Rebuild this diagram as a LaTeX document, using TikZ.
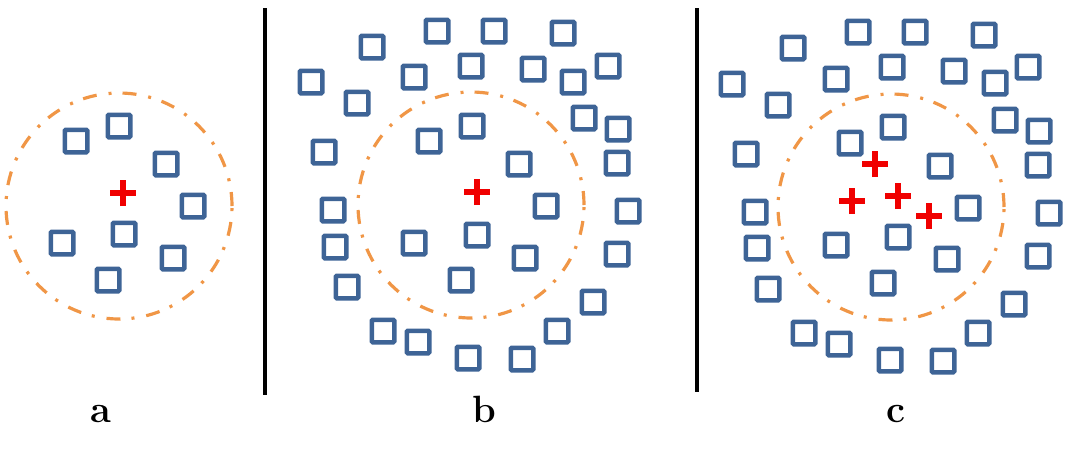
\documentclass[tikz,border=0pt]{standalone}
\definecolor{sqblue}{RGB}{62,100,150}
\definecolor{ringorange}{RGB}{240,150,70}
\definecolor{plusred}{RGB}{240,0,0}
\newcommand{\plusmark}[2]{%
  \node[inner sep=0pt, minimum size=0pt] (#1) at (#2) {};
  \draw[plusline] ([xshift=-13pt]#1.center) -- ([xshift=13pt]#1.center);
  \draw[plusline] ([yshift=-13pt]#1.center) -- ([yshift=13pt]#1.center);}
\begin{document}
\begin{tikzpicture}[x=1pt,y=-1pt,
  sq/.style={draw=sqblue, line width=4.5pt, minimum size=22.5pt, inner sep=0pt, rounded corners=1pt},
  ring/.style={draw=ringorange, line width=3.2pt, circle, minimum size=226pt, inner sep=0pt,
               dash pattern=on 14pt off 11pt on 3pt off 12pt},
  plusline/.style={draw=plusred, line width=6pt},
  divider/.style={line width=4pt, draw=black},
  lab/.style={font=\fontsize{38}{40}\selectfont\bfseries, inner sep=0pt, anchor=base}]
\useasboundingbox (0,0) rectangle (1066,459);

% ---------- panel a ----------
\node[ring] (ra) at (119,206) {};
\foreach \p [count=\i] in {(76,141),(119,126),(166,164),(193,206),(62,243),(124,234),(173,258),(108,280)}
  \node[sq] (a\i) at \p {};
\plusmark{pa}{123,193}

% ---------- panel b ----------
\node[ring] (rb) at (471,205) {};
\foreach \p [count=\i] in {(372,47),(437,31),(494,31),(563,33),(311,82),(414,77),(471,66),(533,69),
   (573,82),(608,66),(357,103),(584,118),(618,129),(324,152),(429,141),(472,126),(519,164),(617,163),
   (333,210),(546,206),(628,211),(335,247),(414,243),(477,235),(525,258),(617,254),(347,287),(461,280),
   (593,302),(383,331),(418,342),(468,358),(522,359),(557,331)}
  \node[sq] (b\i) at \p {};
\plusmark{pb}{477,192}

% ---------- panel c ----------
\node[ring] (rc) at (891,207) {};
\foreach \p [count=\i] in {(793,48),(858,32),(915,32),(984,35),(732,84),(836,79),(892,67),(954,71),
   (995,83),(1028,67),(778,105),(1005,120),(1039,131),(746,154),(850,143),(893,127),(940,166),(1038,165),
   (755,212),(968,208),(1049,213),(757,248),(836,245),(898,237),(947,259),(1038,256),(768,289),(883,283),
   (1014,304),(804,333),(839,344),(890,360),(943,361),(978,333)}
  \node[sq] (c\i) at \p {};
\plusmark{pc1}{875,164}
\plusmark{pc2}{852,201}
\plusmark{pc3}{898,196}
\plusmark{pc4}{929,216}

% ---------- dividers ----------
\coordinate (d1t) at (265,8);
\coordinate (d1b) at (265,395);
\coordinate (d2t) at (697,8);
\coordinate (d2b) at (697,392);
\draw[divider] (d1t) -- (d1b);
\draw[divider] (d2t) -- (d2b);

% ---------- labels ----------
\node[lab] (la) at (101,422) {a};
\node[lab] (lb) at (484,422) {b};
\node[lab] (lc) at (896,422) {c};
\end{tikzpicture}
\end{document}
